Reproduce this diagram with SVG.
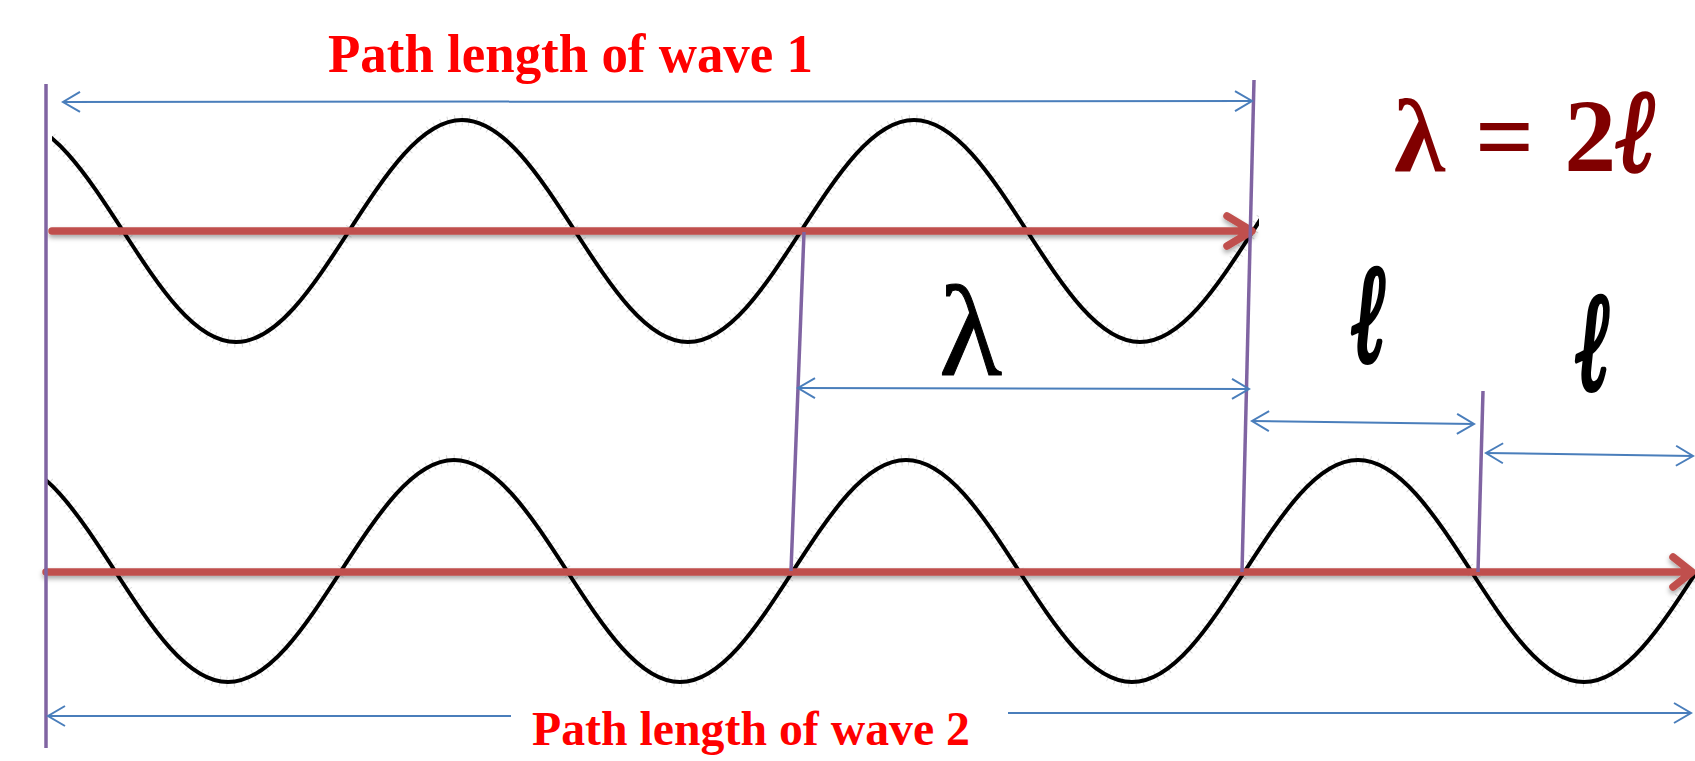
<svg xmlns="http://www.w3.org/2000/svg" width="1695" height="761" viewBox="0 0 1695 761">
<style>
.wave{fill:none;stroke:#000;stroke-width:4;stroke-linejoin:round}
.halo{fill:none;stroke:#8a8a8a;stroke-width:11;stroke-opacity:0.3;stroke-dasharray:1 6}
.red{fill:none;stroke:#c0504d;stroke-width:7.5;stroke-linecap:round;stroke-linejoin:round}
.purple{fill:none;stroke:#8064a2;stroke-width:3.5}
.blue{fill:none;stroke:#4a7ebb;stroke-width:2}
.lbl{font-family:"Liberation Serif","Times New Roman",serif;font-weight:bold;fill:#ff0000}
.sym{font-family:"Liberation Serif","DejaVu Serif",serif}
.ell{font-family:"DejaVu Serif","Liberation Serif",serif;font-weight:bold;font-style:italic;stroke-linejoin:round}
</style>
<defs>
<marker id="ah" markerUnits="userSpaceOnUse" markerWidth="24" markerHeight="24" viewBox="-20 -12 24 24" refX="0" refY="0" orient="auto-start-reverse">
<path d="M-17,-10 L0,0 L-17,10" fill="none" stroke="#4a7ebb" stroke-width="2"/>
</marker>
<filter id="sh" x="-5%" y="-100%" width="110%" height="400%">
<feDropShadow dx="0" dy="3" stdDeviation="2.5" flood-color="#000" flood-opacity="0.35"/>
</filter>
<clipPath id="c1"><rect x="52" y="0" width="1207" height="400"/></clipPath>
<clipPath id="c2"><rect x="46" y="380" width="1649" height="381"/></clipPath>
</defs>

<g id="wave1" clip-path="url(#c1)">
<path class="halo" d="M-103,231 c36.85,-56.87 72.1,-111 113,-111 c40.9,0 76.15,54.13 113,111 c36.85,56.87 72.1,111 113,111 c40.9,0 76.15,-54.13 113,-111 c36.85,-56.87 72.1,-111 113,-111 c40.9,0 76.15,54.13 113,111 c36.85,56.87 72.1,111 113,111 c40.9,0 76.15,-54.13 113,-111 c36.85,-56.87 72.1,-111 113,-111 c40.9,0 76.15,54.13 113,111 c36.85,56.87 72.1,111 113,111 c40.9,0 76.15,-54.13 113,-111 c36.85,-56.87 72.1,-111 113,-111"/>
<path class="wave" d="M-103,231 c36.85,-56.87 72.1,-111 113,-111 c40.9,0 76.15,54.13 113,111 c36.85,56.87 72.1,111 113,111 c40.9,0 76.15,-54.13 113,-111 c36.85,-56.87 72.1,-111 113,-111 c40.9,0 76.15,54.13 113,111 c36.85,56.87 72.1,111 113,111 c40.9,0 76.15,-54.13 113,-111 c36.85,-56.87 72.1,-111 113,-111 c40.9,0 76.15,54.13 113,111 c36.85,56.87 72.1,111 113,111 c40.9,0 76.15,-54.13 113,-111 c36.85,-56.87 72.1,-111 113,-111"/>
</g>

<g id="wave2" clip-path="url(#c2)">
<path class="halo" d="M-111,571 c36.85,-56.87 72.1,-111 113,-111 c40.9,0 76.15,54.13 113,111 c36.85,56.87 72.1,111 113,111 c40.9,0 76.15,-54.13 113,-111 c36.85,-56.87 72.1,-111 113,-111 c40.9,0 76.15,54.13 113,111 c36.85,56.87 72.1,111 113,111 c40.9,0 76.15,-54.13 113,-111 c36.85,-56.87 72.1,-111 113,-111 c40.9,0 76.15,54.13 113,111 c36.85,56.87 72.1,111 113,111 c40.9,0 76.15,-54.13 113,-111 c36.85,-56.87 72.1,-111 113,-111 c40.9,0 76.15,54.13 113,111 c36.85,56.87 72.1,111 113,111 c40.9,0 76.15,-54.13 113,-111"/>
<path class="wave" d="M-111,571 c36.85,-56.87 72.1,-111 113,-111 c40.9,0 76.15,54.13 113,111 c36.85,56.87 72.1,111 113,111 c40.9,0 76.15,-54.13 113,-111 c36.85,-56.87 72.1,-111 113,-111 c40.9,0 76.15,54.13 113,111 c36.85,56.87 72.1,111 113,111 c40.9,0 76.15,-54.13 113,-111 c36.85,-56.87 72.1,-111 113,-111 c40.9,0 76.15,54.13 113,111 c36.85,56.87 72.1,111 113,111 c40.9,0 76.15,-54.13 113,-111 c36.85,-56.87 72.1,-111 113,-111 c40.9,0 76.15,54.13 113,111 c36.85,56.87 72.1,111 113,111 c40.9,0 76.15,-54.13 113,-111"/>
</g>

<g id="connectors">
<g id="red-arrows" filter="url(#sh)">
<path class="red" d="M52,231 L1251,231 M1227,216 L1252,231 L1227,246"/>
<path class="red" d="M46,572 L1690,572 M1673,557 L1692,572 L1673,587"/>
</g>
<g id="purple-lines">
<line class="purple" x1="46" y1="84" x2="46" y2="748"/>
<line class="purple" x1="804" y1="232" x2="791" y2="571"/>
<line class="purple" x1="1254" y1="80" x2="1242" y2="572"/>
<line class="purple" x1="1483" y1="391" x2="1478" y2="572"/>
</g>
<g id="blue-dimensions">
<line class="blue" x1="63" y1="102" x2="1252" y2="101" marker-start="url(#ah)" marker-end="url(#ah)"/>
<line class="blue" x1="798" y1="388" x2="1249" y2="389" marker-start="url(#ah)" marker-end="url(#ah)"/>
<line class="blue" x1="1252" y1="421" x2="1474" y2="424" marker-start="url(#ah)" marker-end="url(#ah)"/>
<line class="blue" x1="1486" y1="453" x2="1693" y2="456" marker-start="url(#ah)" marker-end="url(#ah)"/>
<line class="blue" x1="48" y1="716" x2="511" y2="716" marker-start="url(#ah)"/>
<line class="blue" x1="1008" y1="713" x2="1691" y2="713" marker-end="url(#ah)"/>
</g>
</g>

<g id="label-wave1"><text class="lbl" x="328" y="72" font-size="55" textLength="485" lengthAdjust="spacingAndGlyphs">Path length of wave 1</text></g>
<g id="label-wave2"><text class="lbl" x="532" y="745" font-size="48" textLength="438" lengthAdjust="spacingAndGlyphs">Path length of wave 2</text></g>
<g id="formula">
<text class="sym" x="1394" y="171" font-size="104" font-weight="bold" fill="#800000" word-spacing="4">λ = 2</text>
<text class="ell" transform="translate(1616,171) scale(0.98,1.2)" x="0" y="0" font-size="98" fill="#800000" stroke="#800000" stroke-width="2.5">ℓ</text>
</g>
<g id="label-lambda"><text class="sym" x="939" y="375" font-size="130" fill="#000" stroke="#000" stroke-width="1">λ</text></g>
<g id="label-l1"><text class="ell" transform="translate(1352,361) scale(0.85,1.45)" x="0" y="0" font-size="96" fill="#000" stroke="#000" stroke-width="3.5">ℓ</text></g>
<g id="label-l2"><text class="ell" transform="translate(1576,389) scale(0.85,1.45)" x="0" y="0" font-size="96" fill="#000" stroke="#000" stroke-width="3.5">ℓ</text></g>
</svg>
